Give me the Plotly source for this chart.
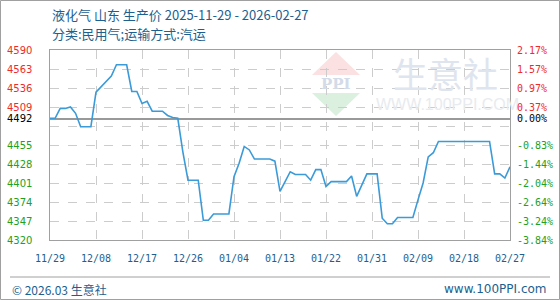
import plotly.graph_objects as go
import pandas as pd

start_date = "2025-11-29"
prices = [4493, 4493, 4507, 4507, 4509, 4500, 4481, 4481, 4481, 4530,
          4538, 4545, 4553, 4569, 4569, 4569, 4531, 4531, 4514, 4517,
          4503, 4503, 4503, 4497, 4494, 4493, 4445, 4405, 4405, 4405,
          4348, 4348, 4357, 4357, 4357, 4357, 4410, 4429, 4453, 4448,
          4435, 4435, 4435, 4435, 4432, 4389, 4403, 4417, 4413, 4413,
          4413, 4405, 4420, 4420, 4396, 4403, 4403, 4403, 4403, 4411,
          4382, 4398, 4414, 4414, 4414, 4351, 4343, 4343, 4352, 4352,
          4352, 4352, 4377, 4401, 4438, 4444, 4460, 4460, 4460, 4460,
          4460, 4460, 4460, 4460, 4460, 4460, 4460, 4414, 4414, 4408,
          4424]
dates = pd.date_range(start_date, periods=len(prices), freq="D")

base_value = 4492
left_labels = [4590, 4563, 4536, 4509, 4492, 4455, 4428, 4401, 4374, 4347, 4320]
right_labels = ["2.17%", "1.57%", "0.97%", "0.37%", "0.00%", "-0.83%", "-1.44%",
                "-2.04%", "-2.64%", "-3.24%", "-3.84%"]
grid_values = [4320, 4347, 4374, 4401, 4428, 4455, 4482, 4509, 4536, 4563, 4590]
x_tick_dates = pd.date_range(start_date, periods=11, freq="9D")
x_tick_text = [d.strftime("%m/%d") for d in x_tick_dates]

title_line1 = "液化气 山东 生产价 2025-11-29 - 2026-02-27"
title_line2 = "分类:民用气;运输方式:汽运"

W, H = 560, 300
ML, MR, MT, MB = 50, 50, 50, 60
PW, PH = W - ML - MR, H - MT - MB


def px(x):
    return (x - ML) / PW


def py(y):
    return (H - MB - y) / PH


BLUE = "#1d5f8f"
RED = "#ee2b2b"
GREEN = "#22a022"

fig = go.Figure()
fig.add_trace(go.Scatter(x=dates, y=prices, mode="lines",
                         line=dict(color="#3b9ad8", width=1.6),
                         hoverinfo="skip", showlegend=False))

fig.update_layout(
    width=W, height=H,
    margin=dict(l=ML, r=MR, t=MT, b=MB),
    paper_bgcolor="white", plot_bgcolor="white",
    showlegend=False,
)
fig.update_xaxes(
    range=[dates[0], dates[-1]],
    tickvals=x_tick_dates, ticktext=x_tick_text,
    tickfont=dict(family="DejaVu Sans Mono", size=10, color=BLUE),
    ticks="outside", ticklen=9, tickcolor="rgba(0,0,0,0)",
    showgrid=True, gridcolor="#cccccc", griddash="dash", gridwidth=1,
    showline=True, linecolor="#a0a0a0", linewidth=1, mirror=True,
    zeroline=False, fixedrange=True,
)
fig.update_yaxes(
    range=[4320, 4590],
    tickvals=grid_values, showticklabels=False,
    showgrid=True, gridcolor="#cccccc", griddash="dash", gridwidth=1,
    showline=True, linecolor="#a0a0a0", linewidth=1, mirror=True,
    zeroline=False, fixedrange=True,
)

shapes = []
# baseline
shapes.append(dict(type="line", xref="paper", yref="y", x0=0, x1=1,
                   y0=base_value, y1=base_value,
                   line=dict(color="#999999", width=2), layer="below"))
# watermark logo
shapes.append(dict(type="path", xref="paper", yref="paper", layer="below",
                   path=f"M {px(336)} {py(52)} L {px(312)} {py(75)} L {px(360)} {py(75)} Z",
                   fillcolor="#fbe1e1", line=dict(width=0)))
shapes.append(dict(type="path", xref="paper", yref="paper", layer="below",
                   path=f"M {px(312)} {py(93)} L {px(360)} {py(93)} L {px(336)} {py(116)} Z",
                   fillcolor="#dcf0df", line=dict(width=0)))
# footer separator and outer frame
shapes.append(dict(type="line", xref="paper", yref="paper",
                   x0=px(10), x1=px(550), y0=py(277), y1=py(277),
                   line=dict(color="#a0a0a0", width=1)))
shapes.append(dict(type="rect", xref="paper", yref="paper",
                   x0=px(0.5), x1=px(559.5), y0=py(0.5), y1=py(299.5),
                   line=dict(color="#a0a0a0", width=1)))
fig.update_layout(shapes=shapes)

ann = []
ann.append(dict(text="<b>PPI</b>", xref="paper", yref="paper", x=px(336), y=py(84),
                xanchor="center", yanchor="middle", showarrow=False,
                font=dict(family="DejaVu Serif", size=15, color="#d3dbe8")))
ann.append(dict(text="生意社", xref="paper", yref="paper", x=px(445), y=py(72),
                xanchor="center", yanchor="middle", showarrow=False,
                font=dict(family="Noto Sans CJK SC", size=35, color="#dfe5ee")))
ann.append(dict(text="WWW.100PPI.COM", xref="paper", yref="paper", x=px(447), y=py(104),
                xanchor="center", yanchor="middle", showarrow=False,
                font=dict(family="Liberation Sans", size=16, color="#e8ebef")))

for v, t in zip(left_labels, right_labels):
    c = RED if v > base_value else ("#000000" if v == base_value else GREEN)
    ann.append(dict(text=str(v), xref="paper", yref="y", x=px(5), y=v,
                    xanchor="left", yanchor="middle", showarrow=False,
                    font=dict(family="DejaVu Sans", size=10, color=c)))
    ann.append(dict(text=t, xref="paper", yref="y", x=px(515), y=v,
                    xanchor="left", yanchor="middle", showarrow=False,
                    font=dict(family="DejaVu Sans Mono", size=10, color=c)))

ann.append(dict(text=title_line1, xref="paper", yref="paper", x=px(50), y=py(14.5),
                xanchor="left", yanchor="middle", showarrow=False,
                font=dict(family="Noto Sans CJK SC", size=13, color=BLUE)))
ann.append(dict(text=title_line2, xref="paper", yref="paper", x=px(50), y=py(33.5),
                xanchor="left", yanchor="middle", showarrow=False,
                font=dict(family="Noto Sans CJK SC", size=13, color=BLUE)))
ann.append(dict(text="© 2026.03 生意社", xref="paper", yref="paper", x=px(10), y=py(289),
                xanchor="left", yanchor="middle", showarrow=False,
                font=dict(family="Noto Sans CJK SC", size=12, color=BLUE)))
ann.append(dict(text="www.100PPI.com", xref="paper", yref="paper", x=px(549), y=py(289),
                xanchor="right", yanchor="middle", showarrow=False,
                font=dict(family="DejaVu Sans", size=12, color=BLUE)))
fig.update_layout(annotations=ann)

fig.write_html("out.html", config={"displayModeBar": False})
